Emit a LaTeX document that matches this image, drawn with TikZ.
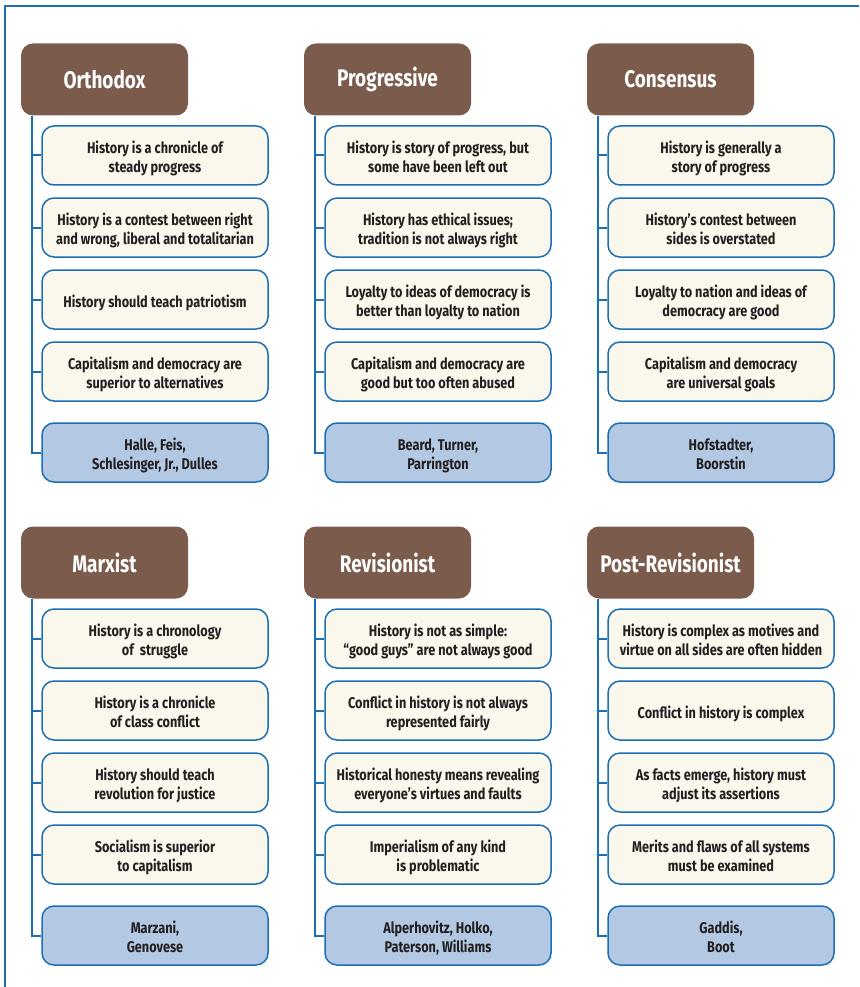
\documentclass[tikz,border=0pt]{standalone}
\usepackage{fontspec}
\newfontfamily\cond{Fira Sans}[FakeStretch=0.82]
\newfontfamily\hcond{Fira Sans}[FakeStretch=0.79]
\usetikzlibrary{calc}
\definecolor{frameblue}{HTML}{1C6FB4}
\definecolor{hdrbrown}{HTML}{7B5B4C}
\definecolor{itemfill}{HTML}{FAF7EC}
\definecolor{authfill}{HTML}{B3C9E3}
\definecolor{txt}{HTML}{231F20}
\newcommand\lowtxt[1]{\raisebox{0pt}[\dimexpr\height+8pt\relax][\depth]{\begin{tabular}{@{}c@{}}#1\end{tabular}}}
\tikzset{
  hdr/.style={fill=hdrbrown, rounded corners=12pt, minimum width=167pt, minimum height=72pt,
    inner sep=0pt, text=white, font=\hcond\bfseries\fontsize{24}{28}\selectfont},
  item/.style={draw=frameblue, line width=1.5pt, fill=itemfill, rounded corners=12pt,
    minimum width=226pt, minimum height=59pt, inner sep=0pt, text=txt,
    font=\cond\bfseries\fontsize{15.5}{19}\selectfont},
  auth/.style={item, fill=authfill},
  conn/.style={draw=frameblue, line width=2pt},
}
\newcommand\histcol[9]{%
  \node[hdr] (#1h) at (#2+104.5, #3+79.5) {#4};
  \node[item] (#1a) at (#2+155, #3+155.5) {\lowtxt{#5}};
  \node[item] (#1b) at (#2+155, #3+227.5) {\lowtxt{#6}};
  \node[item] (#1c) at (#2+155, #3+299.5) {\lowtxt{#7}};
  \node[item] (#1d) at (#2+155, #3+371.5) {\lowtxt{#8}};
  \node[auth] (#1e) at (#2+155, #3+452.5) {\lowtxt{#9}};
  \coordinate (#1top) at ($(#1h.south west)+(11,0)$);
  \draw[conn] (#1top) |- (#1e.west);
  \draw[conn] (#1top |- #1a.west) -- (#1a.west);
  \draw[conn] (#1top |- #1b.west) -- (#1b.west);
  \draw[conn] (#1top |- #1c.west) -- (#1c.west);
  \draw[conn] (#1top |- #1d.west) -- (#1d.west);
}
\begin{document}
\begin{tikzpicture}[x=1pt, y=-1pt]
\useasboundingbox (0,0) rectangle (859,987);
\fill[white] (0,0) rectangle (859,987);
\coordinate (fr1) at (5,987);
\coordinate (fr2) at (5,6);
\coordinate (fr3) at (859,6);
\draw[conn] (fr1) -- (fr2) -- (fr3);
\histcol{o}{0}{0}{Orthodox}
  {History is a chronicle of\\steady progress}
  {History is a contest between right\\and wrong, liberal and totalitarian}
  {History should teach patriotism}
  {Capitalism and democracy are\\superior to alternatives}
  {Halle, Feis,\\Schlesinger, Jr., Dulles}
\histcol{p}{283}{0}{Progressive}
  {History is story of progress, but\\some have been left out}
  {History has ethical issues;\\tradition is not always right}
  {Loyalty to ideas of democracy is\\better than loyalty to nation}
  {Capitalism and democracy are\\good but too often abused}
  {Beard, Turner,\\Parrington}
\histcol{c}{566}{0}{Consensus}
  {History is generally a\\story of progress}
  {History’s contest between\\sides is overstated}
  {Loyalty to nation and ideas of\\democracy are good}
  {Capitalism and democracy\\are universal goals}
  {Hofstadter,\\Boorstin}
\histcol{m}{0}{483}{Marxist}
  {History is a chronology\\of\ \ struggle}
  {History is a chronicle\\of class conflict}
  {History should teach\\revolution for justice}
  {Socialism is superior\\to capitalism}
  {Marzani,\\Genovese}
\histcol{r}{283}{483}{Revisionist}
  {History is not as simple:\\“good guys” are not always good}
  {Conflict in history is not always\\represented fairly}
  {Historical honesty means revealing\\everyone’s virtues and faults}
  {Imperialism of any kind\\is problematic}
  {Alperhovitz, Holko,\\Paterson, Williams}
\histcol{x}{566}{483}{Post-Revisionist}
  {History is complex as motives and\\virtue on all sides are often hidden}
  {Conflict in history is complex}
  {As facts emerge, history must\\adjust its assertions}
  {Merits and flaws of all systems\\must be examined}
  {Gaddis,\\Boot}
\end{tikzpicture}
\end{document}
